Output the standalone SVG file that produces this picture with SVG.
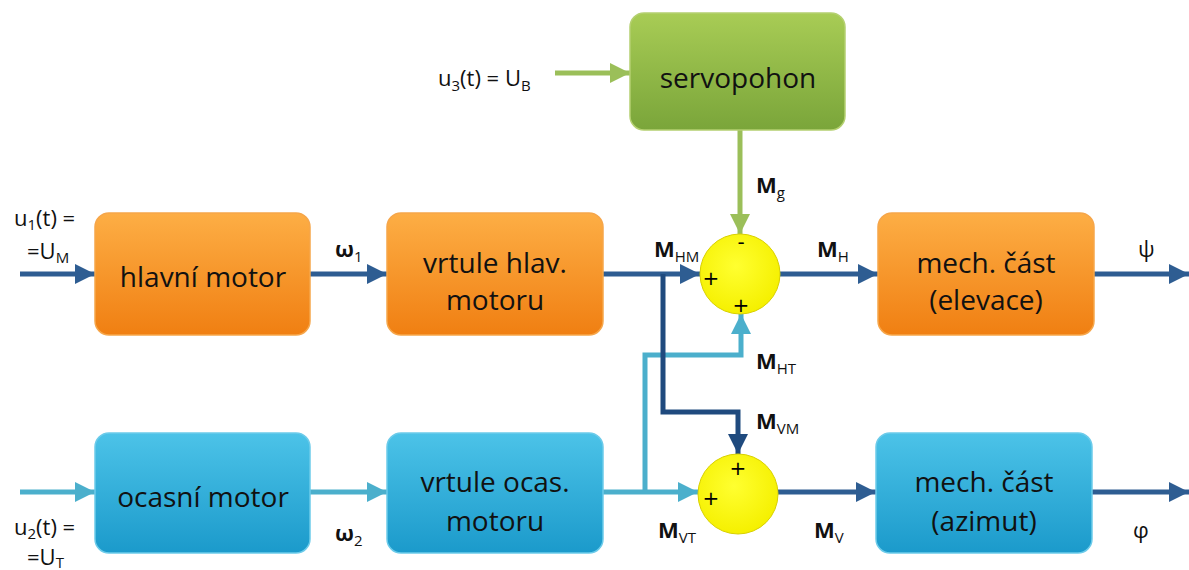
<svg xmlns="http://www.w3.org/2000/svg" width="1189" height="570" viewBox="0 0 1189 570">
<style>
.bt{font-family:"Open Sans","Noto Sans",sans-serif;font-size:28px;fill:#111;text-anchor:middle}
.lb{font-family:"Open Sans","Noto Sans",sans-serif;font-size:22px;fill:#111}
.b{font-weight:bold}
.sub{font-size:15px;font-weight:normal}
.sg{font-family:"DejaVu Sans",sans-serif;font-size:20px;fill:#000;text-anchor:middle}
.ln{fill:none;stroke-width:5}
</style>
<defs>
<linearGradient id="go" x1="0" y1="0" x2="0" y2="1"><stop offset="0" stop-color="#fdae45"/><stop offset="1" stop-color="#f07f12"/></linearGradient>
<linearGradient id="gg" x1="0" y1="0" x2="0" y2="1"><stop offset="0" stop-color="#a8cc55"/><stop offset="1" stop-color="#7aa53a"/></linearGradient>
<linearGradient id="gb" x1="0" y1="0" x2="0" y2="1"><stop offset="0" stop-color="#4cc3e8"/><stop offset="1" stop-color="#1b9acb"/></linearGradient>
<radialGradient id="gy" cx="0.45" cy="0.4" r="0.6"><stop offset="0" stop-color="#ffff30"/><stop offset="1" stop-color="#f5f000"/></radialGradient>
<marker id="ad" markerUnits="userSpaceOnUse" markerWidth="22" markerHeight="20" refX="20" refY="10" orient="auto"><path d="M0,0 L20,10 L0,20 Z" fill="#2e5d92"/></marker>
<marker id="ak" markerUnits="userSpaceOnUse" markerWidth="22" markerHeight="20" refX="20" refY="10" orient="auto"><path d="M0,0 L20,10 L0,20 Z" fill="#1f4a7e"/></marker>
<marker id="al" markerUnits="userSpaceOnUse" markerWidth="22" markerHeight="20" refX="20" refY="10" orient="auto"><path d="M0,0 L20,10 L0,20 Z" fill="#4bafcc"/></marker>
<marker id="ag" markerUnits="userSpaceOnUse" markerWidth="22" markerHeight="20" refX="20" refY="10" orient="auto"><path d="M0,0 L20,10 L0,20 Z" fill="#9bbf59"/></marker>
</defs>
<g id="connectors">
<path class="ln" stroke="#2e5d92" d="M20,274 H95" marker-end="url(#ad)"/>
<path class="ln" stroke="#2e5d92" d="M310,274 H387" marker-end="url(#ad)"/>
<path class="ln" stroke="#2e5d92" d="M603,274 H700" marker-end="url(#ad)"/>
<path class="ln" stroke="#4bafcc" d="M20,492 H95" marker-end="url(#al)"/>
<path class="ln" stroke="#4bafcc" d="M310,492 H387" marker-end="url(#al)"/>
<path class="ln" stroke="#4bafcc" d="M603,492 H698" marker-end="url(#al)"/>
<path class="ln" stroke="#4bafcc" d="M645,492 V355 H741 V314" marker-end="url(#al)"/>
<path class="ln" stroke="#1f4a7e" d="M663,274 V412 H738 V454" marker-end="url(#ak)"/>
<path class="ln" stroke="#9bbf59" d="M555,73 H630" marker-end="url(#ag)"/>
<path class="ln" stroke="#9bbf59" d="M740,130 V234" marker-end="url(#ag)"/>
<path class="ln" stroke="#2e5d92" d="M780,274 H878" marker-end="url(#ad)"/>
<path class="ln" stroke="#2e5d92" d="M778,492 H876" marker-end="url(#ad)"/>
<path class="ln" stroke="#2e5d92" d="M1094,274 H1189" marker-end="url(#ad)"/>
<path class="ln" stroke="#2e5d92" d="M1092,492 H1189" marker-end="url(#ad)"/>
</g>
<g id="hlavni_motor"><rect x="95" y="213" width="215" height="122" rx="14" fill="url(#go)" stroke="#f6a64a" stroke-width="1.5"/><text class="bt" x="203" y="287">hlavní motor</text></g>
<g id="vrtule_hlav"><rect x="387" y="213" width="216" height="122" rx="14" fill="url(#go)" stroke="#f6a64a" stroke-width="1.5"/><text class="bt" x="495" y="273">vrtule hlav.</text><text class="bt" x="495" y="310">motoru</text></g>
<g id="mech_elevace"><rect x="878" y="213" width="216" height="122" rx="14" fill="url(#go)" stroke="#f6a64a" stroke-width="1.5"/><text class="bt" x="986" y="273">mech. část</text><text class="bt" x="986" y="310">(elevace)</text></g>
<g id="servopohon"><rect x="630" y="13" width="215" height="117" rx="14" fill="url(#gg)" stroke="#b4d070" stroke-width="1.5"/><text class="bt" x="738" y="88">servopohon</text></g>
<g id="ocasni_motor"><rect x="95" y="433" width="215" height="120" rx="14" fill="url(#gb)" stroke="#6ccbea" stroke-width="1.5"/><text class="bt" x="203" y="507">ocasní motor</text></g>
<g id="vrtule_ocas"><rect x="387" y="433" width="216" height="120" rx="14" fill="url(#gb)" stroke="#6ccbea" stroke-width="1.5"/><text class="bt" x="495" y="492">vrtule ocas.</text><text class="bt" x="495" y="531">motoru</text></g>
<g id="mech_azimut"><rect x="876" y="433" width="216" height="120" rx="14" fill="url(#gb)" stroke="#6ccbea" stroke-width="1.5"/><text class="bt" x="984" y="492">mech. část</text><text class="bt" x="984" y="531">(azimut)</text></g>
<g id="sum_top"><circle cx="740" cy="274" r="40" fill="url(#gy)" stroke="#d8d000" stroke-width="1"/><text class="sg" x="741" y="249">-</text><text class="sg" x="711" y="285">+</text><text class="sg" x="741" y="312">+</text></g>
<g id="sum_bottom"><circle cx="738" cy="494" r="40" fill="url(#gy)" stroke="#d8d000" stroke-width="1"/><text class="sg" x="738" y="475">+</text><text class="sg" x="711" y="505">+</text></g>
<g id="labels">
<text class="lb" x="14" y="226">u<tspan class="sub" dy="4">1</tspan><tspan dy="-4">(t) =</tspan></text>
<text class="lb" x="27" y="259">=U<tspan class="sub" dy="4">M</tspan></text>
<text class="lb" x="14" y="535">u<tspan class="sub" dy="4">2</tspan><tspan dy="-4">(t) =</tspan></text>
<text class="lb" x="27" y="565">=U<tspan class="sub" dy="3">T</tspan></text>
<text class="lb" x="438" y="86">u<tspan class="sub" dy="5">3</tspan><tspan dy="-5">(t) = U</tspan><tspan class="sub" dy="5">B</tspan></text>
<text class="lb b" x="335" y="257">ω<tspan class="sub" dy="5">1</tspan></text>
<text class="lb b" x="335" y="541">ω<tspan class="sub" dy="5">2</tspan></text>
<text class="lb b" x="654" y="257">M<tspan class="sub" dy="5">HM</tspan></text>
<text class="lb b" x="756" y="193">M<tspan class="sub" dy="5">g</tspan></text>
<text class="lb b" x="817" y="257">M<tspan class="sub" dy="5">H</tspan></text>
<text class="lb b" x="756" y="369">M<tspan class="sub" dy="5">HT</tspan></text>
<text class="lb b" x="756" y="429">M<tspan class="sub" dy="5">VM</tspan></text>
<text class="lb b" x="658" y="538">M<tspan class="sub" dy="5">VT</tspan></text>
<text class="lb b" x="814" y="538">M<tspan class="sub" dy="5">V</tspan></text>
<text class="lb" x="1138" y="257">ψ</text>
<text class="lb" x="1133" y="538">φ</text>
</g>
</svg>
